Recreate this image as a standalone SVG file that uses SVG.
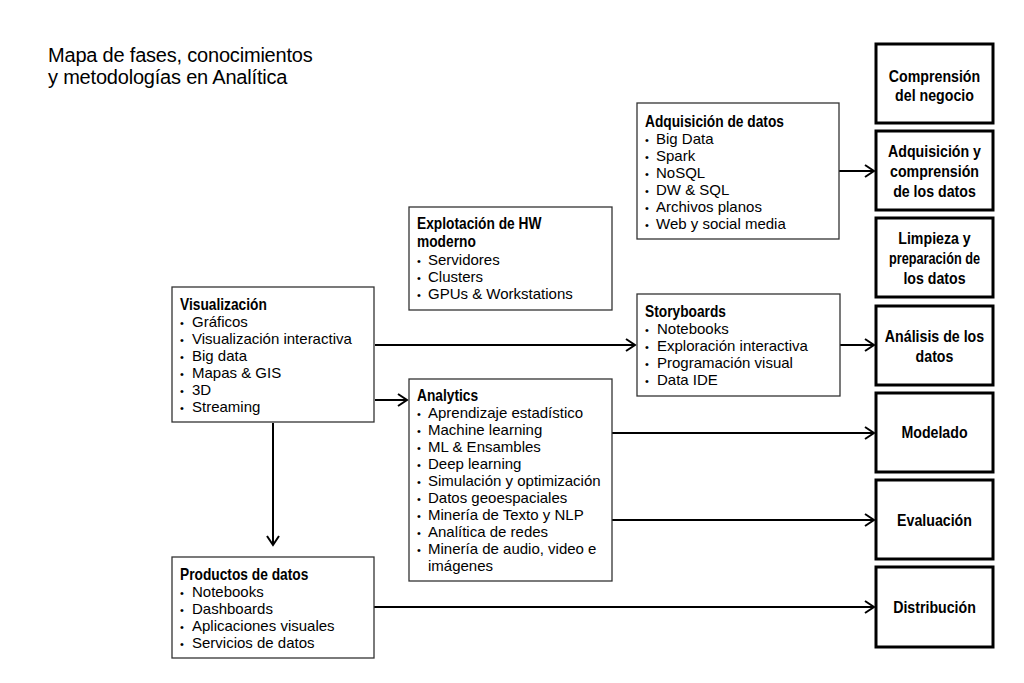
<svg xmlns="http://www.w3.org/2000/svg" width="1024" height="683" viewBox="0 0 1024 683">
<defs>
<style>
.title{font-family:"Liberation Sans",Arial,sans-serif;font-size:20px;fill:#000;letter-spacing:-0.2px}
.box{fill:#fff;stroke:#333;stroke-width:1.3}
.phase{fill:#fff;stroke:#000;stroke-width:3}
.hd{font-family:"Liberation Sans",Arial,sans-serif;font-weight:bold;font-size:16px;fill:#000}
.ph{font-family:"Liberation Sans",Arial,sans-serif;font-weight:bold;font-size:16.5px;fill:#000;text-anchor:middle}
.it{font-family:"Liberation Sans",Arial,sans-serif;font-size:15px;fill:#000}
.bu{font-family:"Liberation Sans",Arial,sans-serif;font-size:11px;fill:#000}
.con{stroke:#000;stroke-width:2;fill:none}
</style>
<marker id="arr" viewBox="0 0 12 14" refX="10" refY="7" markerWidth="12" markerHeight="14" markerUnits="userSpaceOnUse" orient="auto">
<path d="M1,1 L10,7 L1,13" fill="none" stroke="#000" stroke-width="2"/>
</marker>
</defs>
<rect width="1024" height="683" fill="#fff"/>

<g id="title">
<text class="title" x="48" y="62">Mapa de fases, conocimientos</text>
<text class="title" x="48" y="84">y metodologías en Analítica</text>
</g>

<g id="connectors">
<line class="con" x1="839" y1="171" x2="874" y2="171" marker-end="url(#arr)"/>
<line class="con" x1="375" y1="345" x2="635" y2="345" marker-end="url(#arr)"/>
<line class="con" x1="839" y1="345" x2="874" y2="345" marker-end="url(#arr)"/>
<line class="con" x1="375" y1="400" x2="407" y2="400" marker-end="url(#arr)"/>
<line class="con" x1="273" y1="423" x2="273" y2="545" marker-end="url(#arr)"/>
<line class="con" x1="612" y1="433" x2="874" y2="433" marker-end="url(#arr)"/>
<line class="con" x1="612" y1="520" x2="874" y2="520" marker-end="url(#arr)"/>
<line class="con" x1="374" y1="607" x2="874" y2="607" marker-end="url(#arr)"/>
</g>

<g id="adquisicion">
<rect class="box" x="637" y="103" width="202" height="136"/>
<text class="hd" transform="translate(645,127) scale(0.86,1)">Adquisición de datos</text>
<text class="bu" x="645" y="144">•</text><text class="it" x="656" y="144">Big Data</text>
<text class="bu" x="645" y="161">•</text><text class="it" x="656" y="161">Spark</text>
<text class="bu" x="645" y="178">•</text><text class="it" x="656" y="178">NoSQL</text>
<text class="bu" x="645" y="195">•</text><text class="it" x="656" y="195">DW &amp; SQL</text>
<text class="bu" x="645" y="212">•</text><text class="it" x="656" y="212">Archivos planos</text>
<text class="bu" x="645" y="229">•</text><text class="it" x="656" y="229">Web y social media</text>
</g>

<g id="explotacion">
<rect class="box" x="409" y="207" width="203" height="103"/>
<text class="hd" transform="translate(417,229) scale(0.86,1)">Explotación de HW</text>
<text class="hd" transform="translate(417,247) scale(0.86,1)">moderno</text>
<text class="bu" x="417" y="265">•</text><text class="it" x="428" y="265">Servidores</text>
<text class="bu" x="417" y="282">•</text><text class="it" x="428" y="282">Clusters</text>
<text class="bu" x="417" y="299">•</text><text class="it" x="428" y="299">GPUs &amp; Workstations</text>
</g>

<g id="visualizacion">
<rect class="box" x="172" y="287" width="202" height="135"/>
<text class="hd" transform="translate(180,310) scale(0.86,1)">Visualización</text>
<text class="bu" x="180" y="327">•</text><text class="it" x="192" y="327">Gráficos</text>
<text class="bu" x="180" y="344">•</text><text class="it" x="192" y="344">Visualización interactiva</text>
<text class="bu" x="180" y="361">•</text><text class="it" x="192" y="361">Big data</text>
<text class="bu" x="180" y="378">•</text><text class="it" x="192" y="378">Mapas &amp; GIS</text>
<text class="bu" x="180" y="395">•</text><text class="it" x="192" y="395">3D</text>
<text class="bu" x="180" y="412">•</text><text class="it" x="192" y="412">Streaming</text>
</g>

<g id="storyboards">
<rect class="box" x="637" y="294" width="203" height="102"/>
<text class="hd" transform="translate(645,317) scale(0.86,1)">Storyboards</text>
<text class="bu" x="645" y="334">•</text><text class="it" x="657" y="334">Notebooks</text>
<text class="bu" x="645" y="351">•</text><text class="it" x="657" y="351">Exploración interactiva</text>
<text class="bu" x="645" y="368">•</text><text class="it" x="657" y="368">Programación visual</text>
<text class="bu" x="645" y="385">•</text><text class="it" x="657" y="385">Data IDE</text>
</g>

<g id="analytics">
<rect class="box" x="409" y="379" width="203" height="202"/>
<text class="hd" transform="translate(417,401) scale(0.86,1)">Analytics</text>
<text class="bu" x="417" y="418">•</text><text class="it" x="428" y="418">Aprendizaje estadístico</text>
<text class="bu" x="417" y="435">•</text><text class="it" x="428" y="435">Machine learning</text>
<text class="bu" x="417" y="452">•</text><text class="it" x="428" y="452">ML &amp; Ensambles</text>
<text class="bu" x="417" y="469">•</text><text class="it" x="428" y="469">Deep learning</text>
<text class="bu" x="417" y="486">•</text><text class="it" x="428" y="486">Simulación y optimización</text>
<text class="bu" x="417" y="503">•</text><text class="it" x="428" y="503">Datos geoespaciales</text>
<text class="bu" x="417" y="520">•</text><text class="it" x="428" y="520">Minería de Texto y NLP</text>
<text class="bu" x="417" y="537">•</text><text class="it" x="428" y="537">Analítica de redes</text>
<text class="bu" x="417" y="554">•</text><text class="it" x="428" y="554">Minería de audio, video e</text>
<text class="it" x="428" y="571">imágenes</text>
</g>

<g id="productos">
<rect class="box" x="172" y="557" width="202" height="101"/>
<text class="hd" transform="translate(180,580) scale(0.86,1)">Productos de datos</text>
<text class="bu" x="180" y="597">•</text><text class="it" x="192" y="597">Notebooks</text>
<text class="bu" x="180" y="614">•</text><text class="it" x="192" y="614">Dashboards</text>
<text class="bu" x="180" y="631">•</text><text class="it" x="192" y="631">Aplicaciones visuales</text>
<text class="bu" x="180" y="648">•</text><text class="it" x="192" y="648">Servicios de datos</text>
</g>

<g id="phase-comprension">
<rect class="phase" x="876" y="44" width="117" height="79"/>
<text class="ph" transform="translate(934.5,81.5) scale(0.86,1)">Comprensión</text>
<text class="ph" transform="translate(934.5,101) scale(0.86,1)">del negocio</text>
</g>
<g id="phase-adquisicion">
<rect class="phase" x="876" y="131" width="117" height="79"/>
<text class="ph" transform="translate(934.5,157) scale(0.86,1)">Adquisición y</text>
<text class="ph" transform="translate(934.5,177) scale(0.86,1)">comprensión</text>
<text class="ph" transform="translate(934.5,197) scale(0.86,1)">de los datos</text>
</g>
<g id="phase-limpieza">
<rect class="phase" x="876" y="218" width="117" height="79"/>
<text class="ph" transform="translate(934.5,244) scale(0.86,1)">Limpieza y</text>
<text class="ph" transform="translate(934.5,264) scale(0.77,1)">preparación de</text>
<text class="ph" transform="translate(934.5,284) scale(0.86,1)">los datos</text>
</g>
<g id="phase-analisis">
<rect class="phase" x="876" y="306" width="117" height="79"/>
<text class="ph" transform="translate(934.5,342) scale(0.86,1)">Análisis de los</text>
<text class="ph" transform="translate(934.5,362) scale(0.86,1)">datos</text>
</g>
<g id="phase-modelado">
<rect class="phase" x="876" y="393" width="117" height="79"/>
<text class="ph" transform="translate(934.5,438) scale(0.86,1)">Modelado</text>
</g>
<g id="phase-evaluacion">
<rect class="phase" x="876" y="480" width="117" height="79"/>
<text class="ph" transform="translate(934.5,526) scale(0.86,1)">Evaluación</text>
</g>
<g id="phase-distribucion">
<rect class="phase" x="876" y="567" width="117" height="80"/>
<text class="ph" transform="translate(934.5,613) scale(0.86,1)">Distribución</text>
</g>
</svg>
